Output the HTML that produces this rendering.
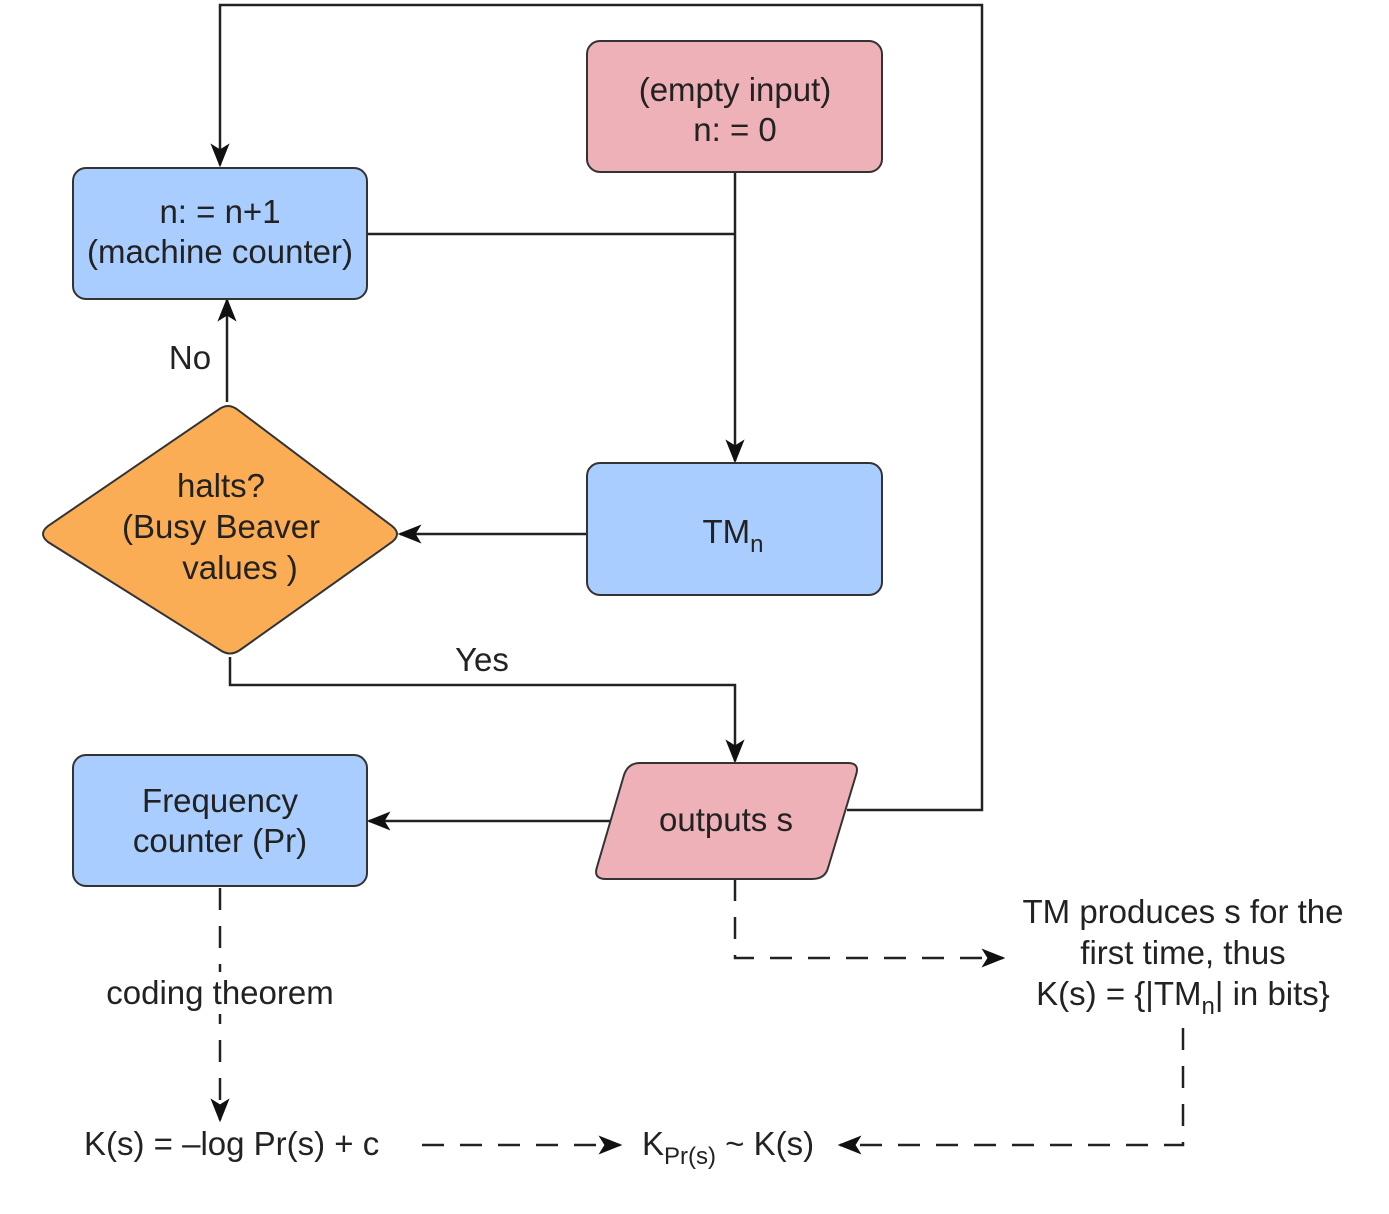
<!DOCTYPE html>
<html><head><meta charset="utf-8"><style>
html,body{margin:0;padding:0;background:#fff;}
svg{display:block;}
text{font-family:"Liberation Sans",Arial,sans-serif;font-size:33px;fill:#222;}
</style></head><body>
<svg width="1389" height="1214" viewBox="0 0 1389 1214" xmlns="http://www.w3.org/2000/svg">
<defs>
<marker id="a" viewBox="0 0 20 20" refX="18" refY="10" markerWidth="24" markerHeight="24" markerUnits="userSpaceOnUse" orient="auto">
<path d="M0,2 L20,10 L0,18 L5,10 Z" fill="#111"/>
</marker>
</defs>
<g fill="none" stroke="#222" stroke-width="2.5">
<polyline points="847,810 982,810 982,5 220,5 220,165" marker-end="url(#a)"/>
<line x1="735" y1="172" x2="735" y2="461" marker-end="url(#a)"/>
<line x1="367" y1="234" x2="735" y2="234"/>
<line x1="587" y1="534" x2="400" y2="534" marker-end="url(#a)"/>
<line x1="227" y1="402" x2="227" y2="300" marker-end="url(#a)"/>
<polyline points="230,657 230,685 735,685 735,761" marker-end="url(#a)"/>
<line x1="610" y1="821" x2="369" y2="821" marker-end="url(#a)"/>
</g>
<g fill="none" stroke="#222" stroke-width="2.5" stroke-dasharray="22,16">
<polyline points="735,879 735,958 1003,958" marker-end="url(#a)"/>
<line x1="220" y1="888" x2="220" y2="1120" marker-end="url(#a)"/>
<polyline points="1183,1028 1183,1145 840,1145" marker-end="url(#a)"/>
<line x1="422" y1="1145" x2="620" y2="1145" marker-end="url(#a)"/>
</g>
<g stroke="#333" stroke-width="2">
<rect x="587" y="41" width="295" height="131" rx="13" fill="#edb1b7"/>
<rect x="73" y="168" width="294" height="131" rx="13" fill="#a9cdfe"/>
<rect x="587" y="463" width="295" height="132" rx="13" fill="#a9cdfe"/>
<rect x="73" y="755" width="294" height="131" rx="13" fill="#a9cdfe"/>
<path d="M218,410 Q228,402 238,410 L392,526 Q402,534 392,542 L240,650 Q230,657 220,650 L48,542 Q38,534 48,526 Z" fill="#fbad56"/>
<path d="M640,763 L848,763 Q860,763 856,775 L828,868 Q825,879 812,879 L606,879 Q593,879 597,867 L624,775 Q628,763 640,763 Z" fill="#edb1b7"/>
</g>
<rect x="98" y="972" width="246" height="42" fill="#fff"/>
<g text-anchor="middle">
<text x="735" y="101">(empty input)</text>
<text x="735" y="141">n: = 0</text>
<text x="220" y="223">n: = n+1</text>
<text x="220" y="263">(machine counter)</text>
<text x="733" y="543">TM<tspan font-size="24" dy="9">n</tspan></text>
<text x="221" y="497">halts?</text>
<text x="221" y="538">(Busy Beaver</text>
<text x="240" y="579">values )</text>
<text x="726" y="831">outputs s</text>
<text x="220" y="812">Frequency</text>
<text x="220" y="852">counter (Pr)</text>
<text x="220" y="1004">coding theorem</text>
<text x="1183" y="923">TM produces s for the</text>
<text x="1183" y="964">first time, thus</text>
<text x="1183" y="1005">K(s) = {|TM<tspan font-size="24" dy="9">n</tspan><tspan dy="-9">| in bits}</tspan></text>
</g>
<text x="190" y="369" text-anchor="middle">No</text>
<text x="482" y="671" text-anchor="middle">Yes</text>
<text x="84" y="1155">K(s) = –log Pr(s) + c</text>
<text x="642" y="1155">K<tspan font-size="24" dy="9">Pr(s)</tspan><tspan dy="-9"> ~ K(s)</tspan></text>
</svg>
</body></html>
